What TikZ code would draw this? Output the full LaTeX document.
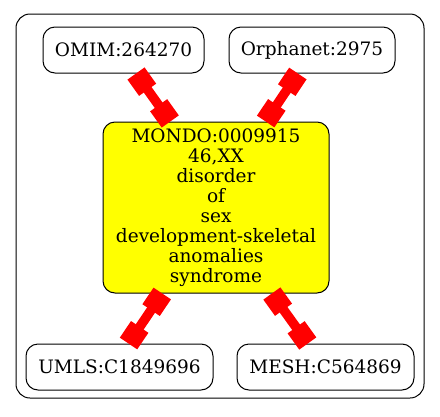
\documentclass[tikz,border=0pt]{standalone}
\usepackage{fontspec}
\setmainfont{DejaVu Serif}
\usetikzlibrary{arrows.meta}
\definecolor{termyellow}{RGB}{255,255,0}
\definecolor{xrefred}{RGB}{255,0,0}
\begin{document}
\begin{tikzpicture}[x=1pt,y=-1pt,
  term/.style={draw,rounded corners=12pt,line width=1pt,inner sep=0pt,
    minimum height=46pt,align=center,font=\fontsize{18.5}{20}\selectfont},
  xref/.style={xrefred,line width=9.5pt,{Square[length=20pt,width=21pt]}-{Square[length=20pt,width=21pt]}}]
\useasboundingbox (0,0) rectangle (440,416);
\draw[line width=1pt,rounded corners=14pt] (16,14) rectangle (424,398);

\node[term,minimum width=161pt] (omim) at (123.5,50) {OMIM:264270};
\node[term,minimum width=166pt] (orpha) at (312,50) {Orphanet:2975};
\node[term,fill=termyellow,minimum width=226pt,minimum height=171pt] (mondo) at (216,207.5)
  {MONDO:0009915\\46,XX\\disorder\\of\\sex\\development-skeletal\\anomalies\\syndrome};
\node[term,minimum width=187pt] (umls) at (119.5,367) {UMLS:C1849696};
\node[term,minimum width=177pt] (mesh) at (325.5,367) {MESH:C564869};

% cross references
\draw[xref] (omim.-62) -- (mondo.118);
\draw[xref] (orpha.-121) -- (mondo.60);
\draw[xref] (mondo.-122) -- (umls.69);
\draw[xref] (mondo.-57) -- (mesh.127);
\end{tikzpicture}
\end{document}
